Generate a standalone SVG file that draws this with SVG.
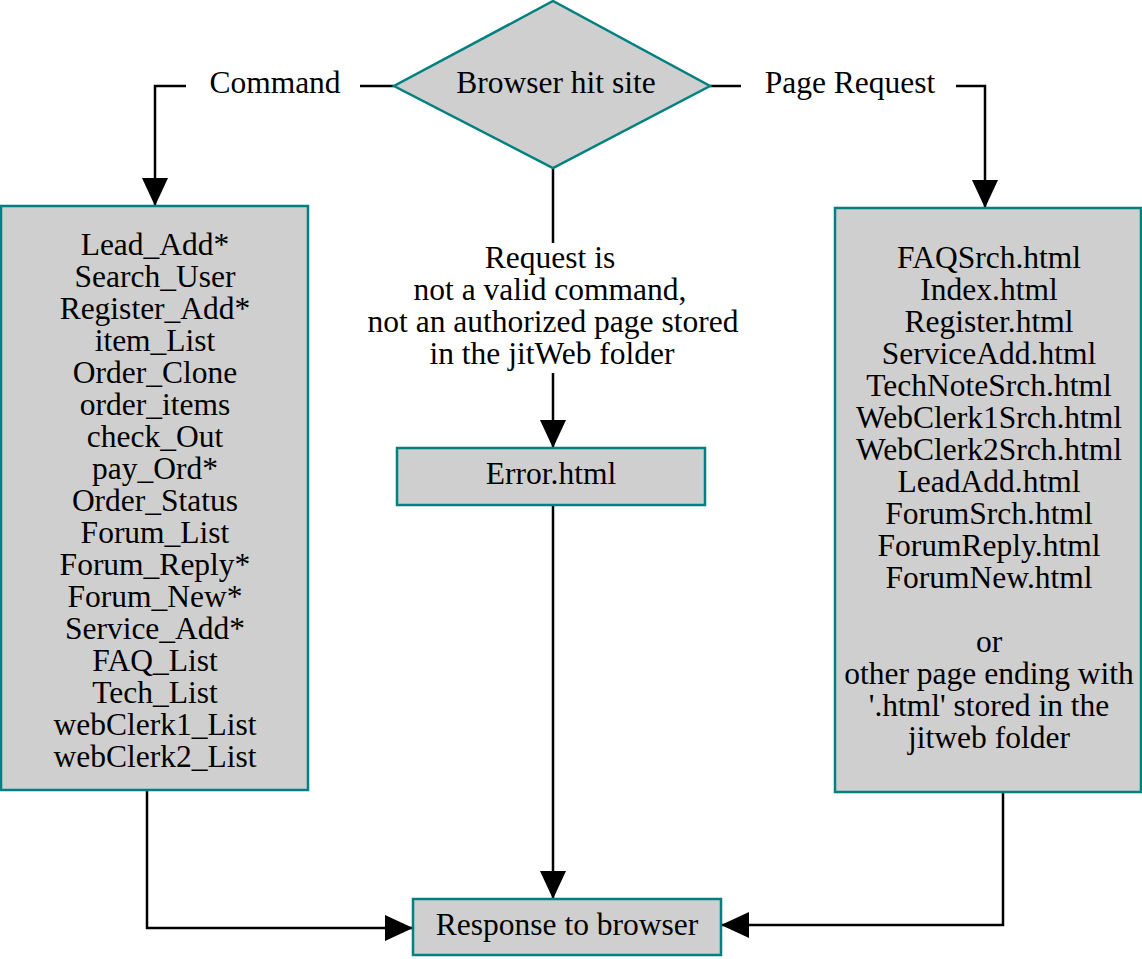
<svg xmlns="http://www.w3.org/2000/svg" width="1142" height="959" viewBox="0 0 1142 959">
  <style>
    .node { fill: #cfcfcf; stroke: #008080; stroke-width: 2.5; }
    .wire { fill: none; stroke: #000; stroke-width: 2.5; }
    .t { font-family: "Liberation Serif", "Times New Roman", serif; font-size: 31.5px; fill: #000; text-anchor: middle; }
  </style>
  <defs>
    <marker id="arrow" markerUnits="userSpaceOnUse" markerWidth="28" markerHeight="26" refX="28" refY="13" orient="auto">
      <path d="M0,0 L28,13 L0,26 z" fill="#000"/>
    </marker>
  </defs>
  <rect width="1142" height="959" fill="#fff"/>

  <g id="connectors">
    <!-- Command branch -->
    <line class="wire" x1="394" y1="86" x2="360" y2="86"/>
    <path class="wire" d="M186,86 H155 V206" marker-end="url(#arrow)"/>
    <text class="t" x="275" y="93">Command</text>
    <!-- Page Request branch -->
    <line class="wire" x1="710" y1="86" x2="741" y2="86"/>
    <path class="wire" d="M956,86 H985 V208" marker-end="url(#arrow)"/>
    <text class="t" x="850" y="93">Page Request</text>
    <!-- Invalid request branch -->
    <line class="wire" x1="553" y1="168" x2="553" y2="243"/>
    <line class="wire" x1="553" y1="373" x2="553" y2="448" marker-end="url(#arrow)"/>
    <g class="t">
      <text x="550" y="268">Request is</text>
      <text x="550" y="300">not a valid command,</text>
      <text x="553" y="332">not an authorized page stored</text>
      <text x="552" y="364">in the jitWeb folder</text>
    </g>
    <line class="wire" x1="553" y1="505" x2="553" y2="899" marker-end="url(#arrow)"/>
    <!-- Results to response -->
    <path class="wire" d="M147,790 V928 H413" marker-end="url(#arrow)"/>
    <path class="wire" d="M1003,792 V925 H721" marker-end="url(#arrow)"/>
  </g>

  <g id="browser-hit-site">
    <polygon class="node" points="553,1 710,86 553,168 394,86"/>
    <text class="t" x="556" y="93">Browser hit site</text>
  </g>

  <g id="commands">
    <rect class="node" x="1" y="206" width="307" height="584"/>
    <g class="t">
      <text x="155" y="255">Lead_Add*</text>
      <text x="155" y="287">Search_User</text>
      <text x="155" y="319">Register_Add*</text>
      <text x="155" y="351">item_List</text>
      <text x="155" y="383">Order_Clone</text>
      <text x="155" y="415">order_items</text>
      <text x="155" y="447">check_Out</text>
      <text x="155" y="479">pay_Ord*</text>
      <text x="155" y="511">Order_Status</text>
      <text x="155" y="543">Forum_List</text>
      <text x="155" y="575">Forum_Reply*</text>
      <text x="155" y="607">Forum_New*</text>
      <text x="155" y="639">Service_Add*</text>
      <text x="155" y="671">FAQ_List</text>
      <text x="155" y="703">Tech_List</text>
      <text x="155" y="735">webClerk1_List</text>
      <text x="155" y="767">webClerk2_List</text>
    </g>
  </g>

  <g id="pages">
    <rect class="node" x="835" y="208" width="306" height="584"/>
    <g class="t">
      <text x="989" y="268">FAQSrch.html</text>
      <text x="989" y="300">Index.html</text>
      <text x="989" y="332">Register.html</text>
      <text x="989" y="364">ServiceAdd.html</text>
      <text x="989" y="396">TechNoteSrch.html</text>
      <text x="989" y="428">WebClerk1Srch.html</text>
      <text x="989" y="460">WebClerk2Srch.html</text>
      <text x="989" y="492">LeadAdd.html</text>
      <text x="989" y="524">ForumSrch.html</text>
      <text x="989" y="556">ForumReply.html</text>
      <text x="989" y="588">ForumNew.html</text>
      <text x="989" y="652">or</text>
      <text x="989" y="684">other page ending with</text>
      <text x="989" y="716">'.html' stored in the</text>
      <text x="989" y="748">jitweb folder</text>
    </g>
  </g>

  <g id="error">
    <rect class="node" x="397" y="448" width="308" height="57"/>
    <text class="t" x="551" y="484">Error.html</text>
  </g>

  <g id="response">
    <rect class="node" x="413" y="899" width="308" height="56"/>
    <text class="t" x="567" y="935">Response to browser</text>
  </g>
</svg>
